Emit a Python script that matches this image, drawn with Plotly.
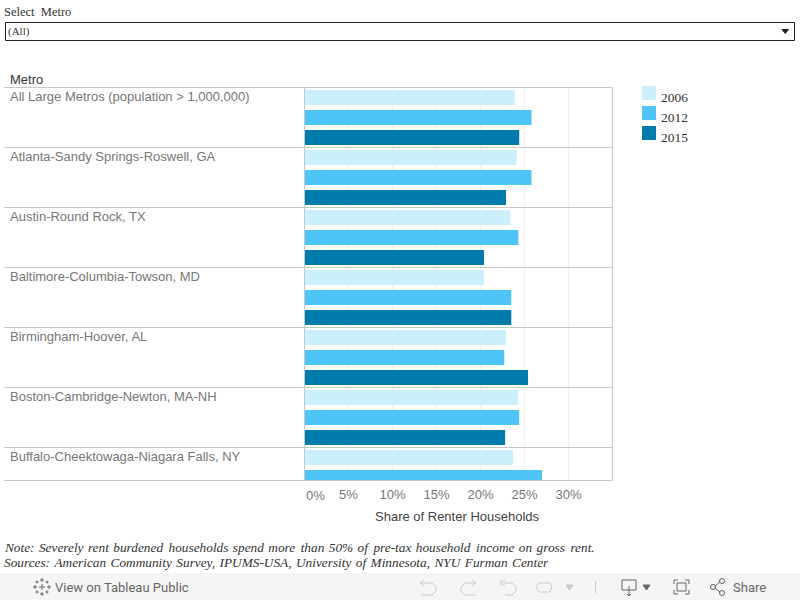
import plotly.graph_objects as go

metros = ["All Large Metros (population > 1,000,000)", "Atlanta-Sandy Springs-Roswell, GA",
          "Austin-Round Rock, TX", "Baltimore-Columbia-Towson, MD", "Birmingham-Hoover, AL",
          "Boston-Cambridge-Newton, MA-NH", "Buffalo-Cheektowaga-Niagara Falls, NY"]
years = ["2006", "2012", "2015"]
v2006 = [23.9, 24.1, 23.4, 20.4, 22.9, 24.3, 23.7]
v2012 = [25.8, 25.8, 24.3, 23.5, 22.7, 24.4, 27.0]
v2015 = [24.4, 22.9, 20.4, 23.5, 25.4, 22.8, None]
ticks = [0, 5, 10, 15, 20, 25, 30]
colors = ["#cbf0fc", "#4fc5f7", "#007bab"]
W, H = 800, 600
SANS = "Liberation Sans, Arial, sans-serif"
SERIF = "Liberation Serif, Times New Roman, serif"
def px(x): return x / W
def py(y): return 1 - y / H

fig = go.Figure()
for k, (yr, vals) in enumerate(zip(years, [v2006, v2012, v2015])):
    fig.add_trace(go.Bar(x=vals, y=[i * 3 + k for i in range(len(metros))], name=yr, orientation="h",
                         width=0.75, marker=dict(color=colors[k], line_width=0),
                         hovertemplate="%{x}%<extra>" + yr + "</extra>"))

shapes, ann = [], []
def line(x0, y0, x1, y1, color="#c8c8c8", w=1):
    shapes.append(dict(type="line", xref="paper", yref="paper", x0=px(x0), x1=px(x1), y0=py(y0), y1=py(y1),
                       line=dict(color=color, width=w), layer="above"))
def rect(x0, y0, x1, y1, fill="rgba(0,0,0,0)", color=None, w=1, layer="below"):
    shapes.append(dict(type="rect", xref="paper", yref="paper", x0=px(x0), x1=px(x1), y0=py(y0), y1=py(y1),
                       fillcolor=fill, line=dict(color=color or fill, width=w if color else 0), layer=layer))
def poly(pts, color="#666", fill="rgba(0,0,0,0)", w=1, close=False):
    d = "M" + " L".join(f"{px(a):.5f},{py(b):.5f}" for a, b in pts) + (" Z" if close else "")
    shapes.append(dict(type="path", xref="paper", yref="paper", path=d, fillcolor=fill,
                       line=dict(color=color, width=w), layer="above"))
def text(x, y, s, size=13, color="#777", font=SANS, anchor="left"):
    ann.append(dict(xref="paper", yref="paper", x=px(x - (1 if anchor == "left" else 0)), y=py(y), text=s, showarrow=False,
                    xanchor=anchor, yanchor="middle", font=dict(family=font, size=size, color=color), align="left",
                    borderpad=0))

# row labels and separators
for i, m in enumerate(metros):
    text(10, 97 + 60 * i - 0.5, m)
    if i:
        shapes.append(dict(type="line", xref="paper", yref="y", x0=px(4), x1=px(612.5), y0=i * 3 - 0.5, y1=i * 3 - 0.5,
                           line=dict(color="#c8c8c8", width=1), layer="above"))
line(4, 87.5, 612.5, 87.5); line(4, 480.5, 612.5, 480.5)
line(304.5, 87.5, 304.5, 480.5); line(612.5, 87.5, 612.5, 480.5)

text(10, 79.5, "Metro", color="#333")
ann.append(dict(x=0, xref="x", y=py(495), yref="paper", text="0%", showarrow=False, xanchor="left", yanchor="middle",
                font=dict(family=SANS, size=13, color="#777"), xshift=0, borderpad=0))
text(457.5, 516.5, "Share of Renter Households", color="#444", anchor="center")

# filter control
text(4, 12, "Select\u00a0 Metro", size=12.5, color="#333", font=SERIF)
rect(5.5, 22.5, 794.5, 40.5, fill="#fff", color="#222")
text(8, 31.5, "(All)", size=11, color="#333", font=SERIF)
poly([(782, 29.5), (788.5, 29.5), (785.2, 33.5)], color="#222", fill="#222", close=True)

# legend
for k, yr in enumerate(years):
    rect(642, 86 + 20 * k, 656, 100 + 20 * k, fill=colors[k])
    text(661, 97.5 + 20 * k, yr, size=13.5, color="#333", font=SERIF)

# note
note = ["Note:  Severely  rent  burdened   households  spend  more   than  50%  of   pre-tax  household   income  on  gross   rent.",
        "Sources:  American  Community  Survey,  IPUMS-USA,  University  of  Minnesota,  NYU  Furman  Center"]
for j, n in enumerate(note):
    s = n.replace("   ", "\u00a0\u200a\u200a").replace("  ", "\u00a0\u200a")
    text(4, 547 + 15.5 * j, "<i>" + s + "</i>", size=13.3, color="#333", font=SERIF)

# footer toolbar
rect(0, 573, 800, 600, fill="#f5f5f5")
text(55, 587, "View on Tableau Public", size=13, color="#666", font="Roboto, Liberation Sans, sans-serif")
text(733, 587, "Share", size=13, color="#666", font="Roboto, Liberation Sans, sans-serif")
for cx, cy, r in [(42, 587, 3), (42, 580, 2), (42, 594, 2), (35, 587, 2), (49, 587, 2), (37, 582, 1.5), (47, 582, 1.5), (37, 592, 1.5), (47, 592, 1.5)]:
    poly([(cx - r, cy), (cx + r, cy)], color="#666", w=1)
    poly([(cx, cy - r), (cx, cy + r)], color="#666", w=1)
g = "#c9c9c9"
poly([(420, 583), (432, 583), (436, 587), (436, 591), (432, 595), (421, 595)], color=g)
poly([(424, 580), (420, 583), (424, 586)], color=g)
poly([(476, 583), (465, 583), (461, 587), (461, 591), (465, 595), (476, 595)], color=g)
poly([(472, 580), (476, 583), (472, 586)], color=g)
poly([(504, 583), (512, 583), (516, 587), (516, 591), (512, 595), (505, 595)], color=g)
poly([(505, 580), (501, 583), (505, 586)], color=g); poly([(501, 580), (501, 586)], color=g)
poly([(539, 583), (550, 583), (552, 587), (550, 592), (539, 592), (536, 587), (539, 583)], color=g)
poly([(566, 585), (573, 585), (569.5, 590)], color=g, fill=g, close=True)
poly([(595.5, 581), (595.5, 593)], color=g)
d = "#666"
poly([(622, 580), (636, 580), (636, 590), (622, 590)], color=d, close=True)
poly([(629, 586), (629, 596)], color=d); poly([(627, 594), (629, 596), (631, 594)], color=d)
poly([(643, 585), (650, 585), (646.5, 590)], color=d, fill=d, close=True)
for a, b, c, e in [(674, 584, 674, 580), (674, 580, 678, 580), (685, 580, 689, 580), (689, 580, 689, 584),
                   (689, 590, 689, 594), (689, 594, 685, 594), (678, 594, 674, 594), (674, 594, 674, 590)]:
    poly([(a, b), (c, e)], color=d)
rect(677, 583, 686, 591, color=d, layer="above")
for cx, cy in [(713, 587), (722, 581), (722, 593)]:
    shapes.append(dict(type="circle", xref="paper", yref="paper", x0=px(cx - 2.5), x1=px(cx + 2.5), y0=py(cy - 2.5), y1=py(cy + 2.5),
                       line=dict(color=d, width=1), layer="above"))
poly([(715, 586), (720, 582)], color=d); poly([(715, 588), (720, 592)], color=d)

fig.update_layout(
    width=W, height=H, autosize=False, margin=dict(l=0, r=0, t=0, b=0), paper_bgcolor="#fff", plot_bgcolor="#fff",
    barmode="overlay", showlegend=False, shapes=shapes, annotations=ann,
    xaxis=dict(domain=[px(304.5), px(612.5)], range=[0, 35], tickvals=ticks[1:], ticktext=[f"{t}%" for t in ticks[1:]],
               tickfont=dict(family=SANS, size=13, color="#777"), ticks="", showline=False, zeroline=False,
               gridcolor="#f0f0f0", gridwidth=1, anchor="y", automargin=False, ticklabelstandoff=4),
    yaxis=dict(domain=[py(480.5), py(87.5)], range=[19.15, -0.5], showticklabels=False, ticks="", showgrid=False,
               zeroline=False, showline=False, automargin=False),
)
fig.write_html("out.html", config={"displayModeBar": False},
               post_script="document.body.style.margin='0';document.documentElement.style.overflow='hidden';")
